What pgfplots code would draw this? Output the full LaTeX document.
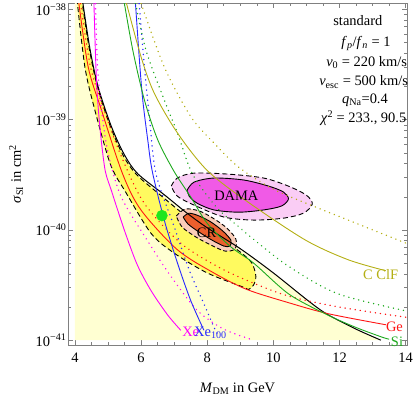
\documentclass[border=0pt]{standalone}
\usepackage{fontspec}
\setmainfont{Liberation Serif}
\usepackage{pgfplots}
\pgfplotsset{compat=1.18}
\definecolor{paleY}{RGB}{255,255,210}
\definecolor{brightY}{RGB}{255,250,95}
\definecolor{damaO}{RGB}{250,205,245}
\definecolor{damaI}{RGB}{240,90,230}
\definecolor{crO}{RGB}{250,205,185}
\definecolor{crI}{RGB}{235,95,45}
\definecolor{cRed}{RGB}{255,20,20}
\definecolor{cMag}{RGB}{255,0,255}
\definecolor{cBlue}{RGB}{40,40,255}
\definecolor{cGreen}{RGB}{30,170,30}
\definecolor{cOlive}{RGB}{180,175,20}
\definecolor{cDot}{RGB}{30,230,30}
\tikzset{dotz/.style={line width=1.5bp, dash pattern=on 0.1bp off 5bp, line cap=round},
  ln/.style={line width=0.9bp}}
\newcommand{\fs}{\fontsize{14.5}{17}\selectfont}
\begin{document}
\begin{tikzpicture}
\begin{axis}[name=ax, scale only axis, width=339bp, height=342bp,
  xmin=3.79, xmax=14.04, ymode=log, ymin=9.03e-42, ymax=1.146e-38,
  xtick={4,6,8,10,12,14}, xticklabels={4,6,8,10,12,14}, minor x tick num=3,
  ytick={1e-41,1e-40,1e-39,1e-38},
  yticklabels={10\textsuperscript{−41},10\textsuperscript{−40},10\textsuperscript{−39},10\textsuperscript{−38}},
  minor ytick={2e-41,3e-41,4e-41,5e-41,6e-41,7e-41,8e-41,9e-41,2e-40,3e-40,4e-40,5e-40,6e-40,7e-40,8e-40,9e-40,2e-39,3e-39,4e-39,5e-39,6e-39,7e-39,8e-39,9e-39},
  tick pos=both, axis line style={gray, line width=0.7bp},
  tick style={gray, line width=0.6bp}, major tick length=5bp, minor tick length=3bp,
  tick label style={font=\fs}, /pgf/number format/assume math mode=true,
  xticklabel style={yshift=-4bp}, yticklabel style={xshift=2bp},
  xlabel={\textit{M}\textsubscript{DM} in GeV}, ylabel={\textit{σ}\textsubscript{SI} in cm\textsuperscript{2}},
  label style={font=\fs},
  xlabel style={at={(axis description cs:0.5,-0.127)}, anchor=center},
  ylabel style={at={(axis description cs:-0.153,0.5)}, anchor=center},
  clip mode=individual,
]
% pale yellow region
\addplot[fill=paleY, draw=none, smooth] coordinates {(4.22,1.259e-38) (4.45,4.467e-39) (4.7,1.995e-39) (5.1,8.710e-40) (5.5,4.786e-40) (5.9,3.236e-40) (6.7,2.089e-40) (7.4,1.413e-40) (8.0,1.047e-40) (9.0,6.761e-41) (10.0,4.074e-41) (11.0,2.344e-41) (11.6,1.738e-41) (12.5,1.259e-41) (13.25,1.0e-41)} -- (axis cs:4,1e-41) -- (axis cs:4,1.259e-38) -- cycle;
% bright yellow band
\addplot[fill=brightY, draw=none, smooth] coordinates {(4.2,1.259e-38) (4.43,4.467e-39) (4.68,1.995e-39) (5.07,8.710e-40) (5.47,4.677e-40) (5.87,3.162e-40) (6.65,1.995e-40) (7.3,1.380e-40) (7.9,1.023e-40) (8.5,7.943e-41) (9.0,6.310e-41) (9.35,5.012e-41) (9.47,3.802e-41) (9.4,3.162e-41) (9.25,2.884e-41) (9.1,3.020e-41) (8.0,4.074e-41) (7.0,6.166e-41) (6.3,9.333e-41) (5.5,2.291e-40) (5.2,3.236e-40) (5.0,4.571e-40) (4.6,1.230e-39) (4.3,3.020e-39) (4.06,1.259e-38)};
\addplot[black, ln, dash pattern=on 5bp off 3bp, smooth] coordinates {(4.2,1.259e-38) (4.43,4.467e-39) (4.68,1.995e-39) (5.07,8.710e-40) (5.47,4.677e-40) (5.87,3.162e-40) (6.65,1.995e-40) (7.3,1.380e-40) (7.9,1.023e-40) (8.5,7.943e-41) (9.0,6.310e-41) (9.35,5.012e-41) (9.47,3.802e-41) (9.4,3.162e-41) (9.25,2.884e-41) (9.1,3.020e-41) (8.0,4.074e-41) (7.0,6.166e-41) (6.3,9.333e-41) (5.5,2.291e-40) (5.2,3.236e-40) (5.0,4.571e-40) (4.6,1.230e-39) (4.3,3.020e-39) (4.06,1.259e-38)};
% DAMA
\addplot[fill=damaO, draw=black, ln, dash pattern=on 5bp off 3bp, smooth] coordinates {(6.913,2.50e-40) (7.093,2.96e-40) (7.604,3.28e-40) (8.655,3.21e-40) (9.706,2.96e-40) (10.456,2.50e-40) (10.997,2.07e-40) (11.177,1.72e-40) (10.907,1.42e-40) (10.306,1.28e-40) (9.405,1.23e-40) (8.505,1.31e-40) (7.604,1.68e-40) (7.093,2.03e-40) (6.913,2.50e-40)};
\addplot[fill=damaI, draw=black, ln, smooth] coordinates {(7.393,2.30e-40) (7.604,2.72e-40) (8.204,2.96e-40) (9.105,2.84e-40) (9.856,2.50e-40) (10.306,2.21e-40) (10.456,1.91e-40) (10.246,1.65e-40) (9.706,1.52e-40) (8.955,1.45e-40) (8.204,1.52e-40) (7.694,1.75e-40) (7.453,2.03e-40) (7.393,2.30e-40)};
% CR
\addplot[fill=crO, draw=black, ln, dash pattern=on 4bp off 2.5bp, smooth] coordinates {(7.063,1.34e-40) (7.333,1.55e-40) (7.754,1.49e-40) (8.174,1.28e-40) (8.595,1.04e-40) (8.865,8.26e-41) (8.835,6.71e-41) (8.535,6.44e-41) (8.114,7.29e-41) (7.664,8.61e-41) (7.243,1.06e-40) (7.063,1.34e-40)};
\addplot[fill=crI, draw=black, ln, smooth] coordinates {(7.273,1.31e-40) (7.453,1.42e-40) (7.754,1.34e-40) (8.114,1.18e-40) (8.474,9.77e-41) (8.715,8.09e-41) (8.685,7.14e-41) (8.505,7.14e-41) (8.144,8.09e-41) (7.754,9.57e-41) (7.423,1.13e-40) (7.273,1.31e-40)};
% black boundary
\addplot[black, line width=1bp, smooth] coordinates {(4.22,1.259e-38) (4.45,4.467e-39) (4.7,1.995e-39) (5.1,8.710e-40) (5.5,4.786e-40) (5.9,3.236e-40) (6.7,2.089e-40) (7.4,1.413e-40) (8.0,1.047e-40) (9.0,6.761e-41) (10.0,4.074e-41) (11.0,2.344e-41) (11.6,1.738e-41) (12.5,1.259e-41) (13.25,1.0e-41)};
% red
\addplot[cRed, ln, smooth] coordinates {(4.1,1.259e-38) (4.4,3.020e-39) (4.8,1.230e-39) (5.44,3.236e-40) (6.0,1.514e-40) (7.1,6.607e-41) (8.2,4.074e-41) (9.2,2.884e-41) (10.46,2.188e-41) (11.66,1.738e-41) (13.4,1.380e-41)};
\addplot[cRed, dotz, smooth] coordinates {(4.15,1.259e-38) (4.47,3.020e-39) (4.88,1.230e-39) (5.4,4.677e-40) (6.1,1.738e-40) (7.2,7.586e-41) (8.3,4.677e-41) (9.3,3.388e-41) (10.46,2.512e-41) (12.0,1.995e-41) (14.1,1.600e-41)};
% magenta
\addplot[cMag, ln, smooth] coordinates {(4.57,1.259e-38) (4.62,3.981e-39) (4.66,1.995e-39) (4.72,1.122e-39) (4.8,6.310e-40) (4.92,3.388e-40) (5.1,2.291e-40) (5.26,1.622e-40) (5.55,8.913e-41) (5.89,4.786e-41) (6.3,2.818e-41) (6.8,1.698e-41) (7.2,1.230e-41)};
\addplot[cMag, dotz, smooth] coordinates {(4.62,1.259e-38) (4.68,3.162e-39) (4.8,1.259e-39) (5.0,5.012e-40) (5.4,1.995e-40) (6.2,7.943e-41) (6.9,3.802e-41) (7.7,1.862e-41) (8.5,1.259e-41) (9.4,1.0e-41)};
% blue
\addplot[cBlue, ln, smooth] coordinates {(5.82,1.259e-38) (5.95,3.467e-39) (6.05,1.514e-39) (6.2,6.607e-40) (6.34,3.388e-40) (6.7,1.230e-40) (7.1,5.012e-41) (7.5,2.291e-41) (7.9,1.230e-41)};
\addplot[cBlue, dotz, smooth] coordinates {(5.93,1.259e-38) (6.1,3.020e-39) (6.25,1.072e-39) (6.45,3.236e-40) (7.0,1.072e-40) (7.45,4.365e-41) (7.9,2.138e-41) (8.2,1.318e-41) (8.3,1.15e-41)};
% green
\addplot[cGreen, ln, smooth] coordinates {(5.47,1.259e-38) (5.75,4.266e-39) (6.1,1.514e-39) (6.5,6.607e-40) (7.0,3.388e-40) (7.5,1.995e-40) (8.0,1.148e-40) (8.7,7.079e-41) (9.4,5.012e-41) (10.46,2.630e-41) (11.56,1.738e-41) (12.46,1.318e-41) (13.26,1.072e-41) (13.5,1.02e-41)};
\addplot[cGreen, dotz, smooth] coordinates {(5.8,1.259e-38) (6.15,4.266e-39) (6.7,1.514e-39) (7.1,7.586e-40) (7.55,3.236e-40) (8.3,1.585e-40) (8.95,1.072e-40) (9.3,8.710e-41) (10.46,4.677e-41) (11.96,2.630e-41) (14.1,1.820e-41)};
% olive
\addplot[cOlive, ln, smooth] coordinates {(5.52,1.259e-38) (6.0,3.715e-39) (6.4,1.738e-39) (7.1,7.586e-40) (8.0,3.467e-40) (9.2,1.820e-40) (10.96,8.128e-41) (12.26,5.370e-41) (13.4,4.266e-41)};
\addplot[cOlive, dotz, smooth] coordinates {(5.95,1.259e-38) (6.7,3.020e-39) (7.5,1.072e-39) (8.2,6.166e-40) (8.95,3.715e-40) (10.0,2.344e-40) (11.26,1.622e-40) (12.26,1.230e-40) (14.1,7.4e-41)};
% best-fit point
\addplot[only marks, mark=*, mark size=5.5bp, color=cDot] coordinates {(6.63,1.35e-40)};
% labels
\node[font=\fs] at (axis cs:8.88,2.03e-40) {DAMA};
\node[font=\fs] at (axis cs:7.98,9.46e-41) {CR};
\node[font=\fs, text=cMag, anchor=west, inner sep=0] at (axis cs:7.24,1.19e-41) {Xe};
\node[font=\fs, text=cBlue, anchor=west, inner sep=0] at (axis cs:7.60,1.16e-41) {Xe\textsubscript{100}};
\node[font=\fs, text=cRed, anchor=west, inner sep=0] at (axis cs:13.40,1.32e-41) {Ge};
\node[font=\fs, text=cGreen, anchor=west, inner sep=0] at (axis cs:13.55,9.7e-42) {Si};
\node[font=\fs, text=cOlive, anchor=west, inner sep=0] at (axis cs:12.71,3.98e-41) {C ClF};
\node[font=\fs] at (rel axis cs:0.855,0.950) {standard};
\node[font=\fs] at (rel axis cs:0.879,0.883) {\textit{f}\textsubscript{\textit{p}}/\textit{f}\textsubscript{\textit{n}} = 1};
\node[font=\fs] at (rel axis cs:0.881,0.825) {\textit{v}\textsubscript{0} = 220 km/s};
\node[font=\fs] at (rel axis cs:0.872,0.769) {\textit{v}\textsubscript{esc} = 500 km/s};
\node[font=\fs] at (rel axis cs:0.876,0.716) {\textit{q}\textsubscript{Na}=0.4};
\node[font=\fs] at (rel axis cs:0.872,0.664) {\textit{χ}\textsuperscript{2} = 233., 90.5};
\end{axis}
\pgfresetboundingbox
\path[use as bounding box] ([xshift=-68bp,yshift=-50bp]ax.south west) rectangle ([xshift=10bp,yshift=3bp]ax.north east);
\end{tikzpicture}
\end{document}
